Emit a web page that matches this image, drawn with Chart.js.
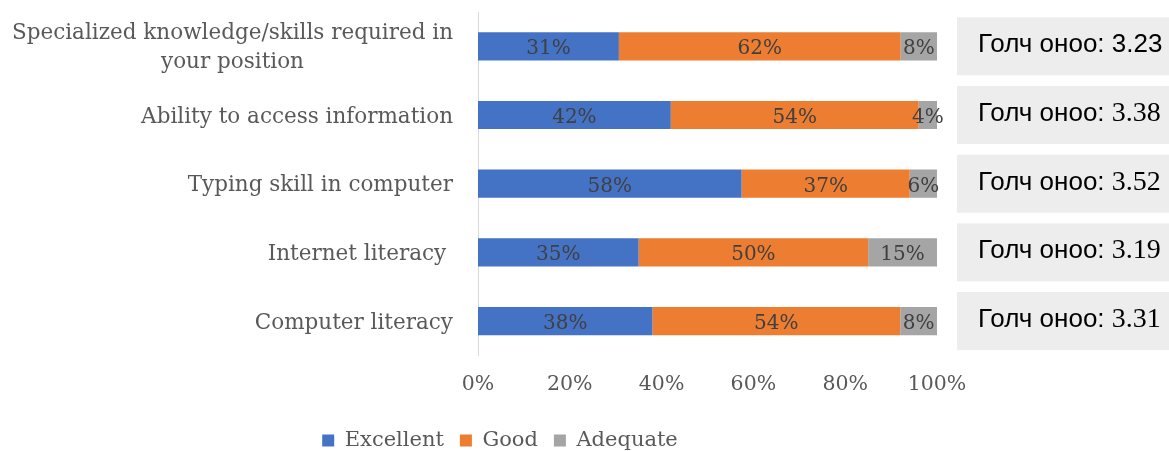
<!DOCTYPE html>
<html>
<head>
<meta charset="utf-8">
<script src="https://cdn.jsdelivr.net/npm/chart.js@4.4.0/dist/chart.umd.min.js"></script>
<style>
html, body { margin: 0; padding: 0; background: #fff; }
</style>
</head>
<body>
<canvas id="myChart" width="1169" height="451"></canvas>
<script>
const categories = [
	["Specialized knowledge/skills required in", "your position"],
	"Ability to access information",
	"Typing skill in computer",
	"Internet literacy ",
	"Computer literacy"
];
const seriesNames = ["Excellent", "Good", "Adequate"];
const excellent = [31, 42, 58, 35, 38];
const good = [62, 54, 37, 50, 54];
const adequate = [8, 4, 6, 15, 8];
const scores = ["3.23", "3.38", "3.52", "3.19", "3.31"];
const scoreLabel = "Голч оноо: ";
const xTicks = [0, 20, 40, 60, 80, 100];

const colors = ["#4472C4", "#ED7D31", "#A5A5A5"];
const serif = "'DejaVu Serif'";
const sans = "'Liberation Sans', Arial";
const raw = [excellent, good, adequate];

// 100% stacked: each bar is scaled to its row total
function share(arr) {
	return arr.map(function (v, i) {
		return v / (excellent[i] + good[i] + adequate[i]) * 100;
	});
}

const categoryLabels = {
	id: "categoryLabels",
	afterDraw: function (chart) {
		var ctx = chart.ctx;
		var y = chart.scales.y;
		ctx.save();
		ctx.font = "21.5px " + serif;
		ctx.fillStyle = "#595959";
		ctx.textAlign = "center";
		ctx.textBaseline = "middle";
		var right = chart.chartArea.left - 25;
		var lineH = 29;
		for (var i = 0; i < categories.length; i++) {
			var lines = Array.isArray(categories[i]) ? categories[i] : [categories[i]];
			var w = 0;
			lines.forEach(function (l) { w = Math.max(w, ctx.measureText(l).width); });
			var yc = y.getPixelForValue(i) + 2;
			var y0 = yc - (lines.length - 1) * lineH / 2;
			for (var j = 0; j < lines.length; j++) {
				ctx.fillText(lines[j], right - w / 2, y0 + j * lineH);
			}
		}
		ctx.restore();
	}
};

const valueLabels = {
	id: "valueLabels",
	afterDatasetsDraw: function (chart) {
		var ctx = chart.ctx;
		ctx.save();
		ctx.font = "20px " + serif;
		ctx.fillStyle = "#404040";
		ctx.textAlign = "center";
		ctx.textBaseline = "alphabetic";
		chart.data.datasets.forEach(function (ds, d) {
			chart.getDatasetMeta(d).data.forEach(function (bar, i) {
				ctx.fillText(raw[d][i] + "%", (bar.x + bar.base) / 2, bar.y + 8);
			});
		});
		ctx.restore();
	}
};

const scoreBoxes = {
	id: "scoreBoxes",
	afterDraw: function (chart) {
		var ctx = chart.ctx;
		var y = chart.scales.y;
		ctx.save();
		ctx.textBaseline = "alphabetic";
		for (var i = 0; i < scores.length; i++) {
			var yc = y.getPixelForValue(i);
			ctx.fillStyle = "#EDEDED";
			ctx.fillRect(957, yc - 29, chart.width - 957, 58);
			ctx.fillStyle = "#000";
			ctx.font = "26px " + sans;
			ctx.fillText(scoreLabel, 978, yc + 6);
			var lw = ctx.measureText(scoreLabel).width;
			ctx.font = i == 0 ? "26px " + sans : "28px 'Liberation Serif'";
			ctx.fillText(scores[i], 978 + lw, yc + 6);
		}
		ctx.restore();
	}
};

var ctx = document.getElementById("myChart").getContext("2d");
var myChart = new Chart(ctx, {
	type: "bar",
	data: {
		labels: categories,
		datasets: seriesNames.map(function (name, d) {
			return {
				label: name,
				data: share(raw[d]),
				backgroundColor: colors[d],
				borderWidth: 0,
				categoryPercentage: 1,
				barPercentage: 0.41,
			};
		}),
	},
	options: {
		responsive: false,
		animation: false,
		indexAxis: "y",
		layout: { padding: { top: 12, right: 169, left: 0, bottom: -10 } },
		scales: {
			x: {
				stacked: true,
				min: 0,
				max: 100,
				afterBuildTicks: function (s) {
					s.ticks = xTicks.map(function (v) { return { value: v }; });
				},
				afterFit: function (s) { s.paddingRight = 232; },
				grid: { display: false, drawTicks: false },
				border: { display: false },
				ticks: {
					padding: 17,
					color: "#595959",
					font: { family: serif, size: 20.5 },
					callback: function (v) { return v + "%"; },
				},
			},
			y: {
				stacked: true,
				afterFit: function (s) { s.width = 478; },
				grid: { display: false, drawTicks: false },
				border: { display: true, color: "#D9D9D9", width: 1 },
				ticks: { display: false },
			},
		},
		plugins: {
			legend: {
				position: "bottom",
				labels: {
					boxWidth: 12,
					boxHeight: 12,
					padding: 16,
					color: "#595959",
					font: { family: serif, size: 21 },
				},
			},
			tooltip: { enabled: false },
		},
	},
	plugins: [categoryLabels, valueLabels, scoreBoxes],
});
</script>
</body>
</html>
